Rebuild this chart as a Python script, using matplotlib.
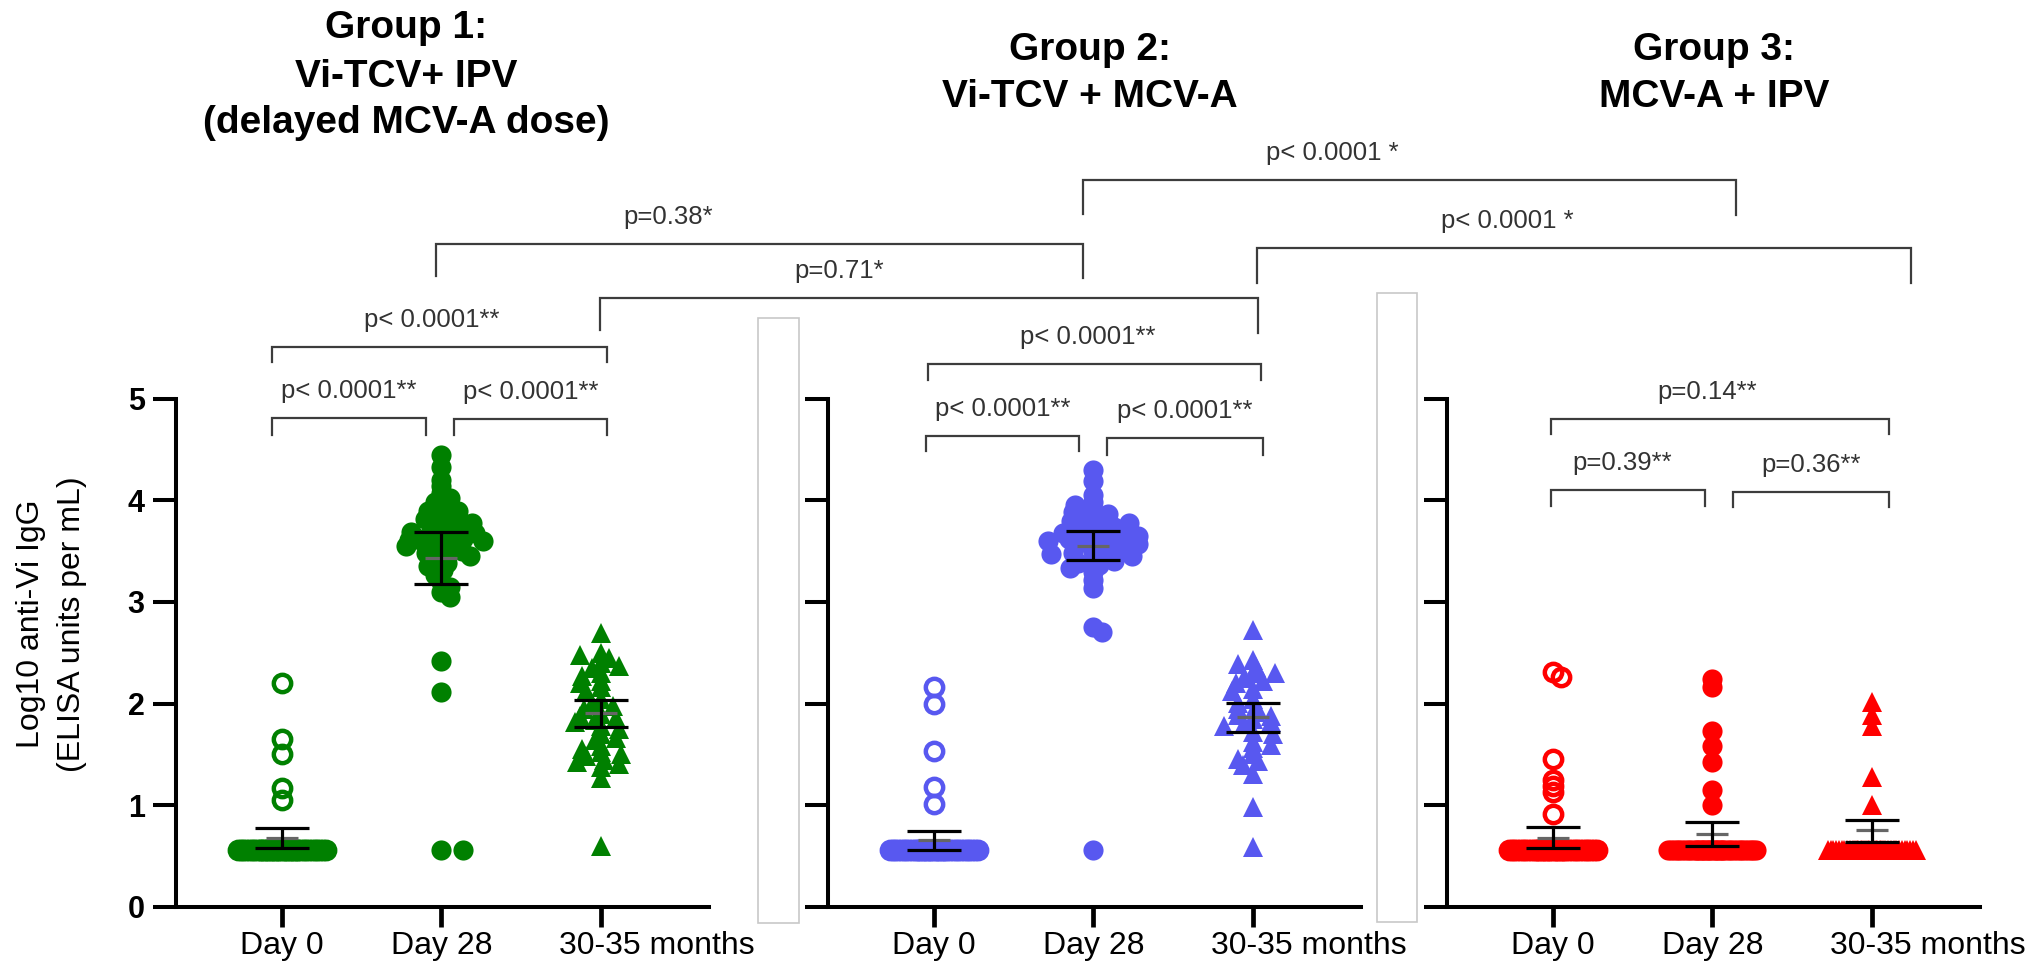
import numpy as np
import matplotlib.pyplot as plt
from matplotlib.patches import Rectangle
from matplotlib.transforms import ScaledTranslation

plt.rcParams['font.family'] = ['Liberation Sans', 'DejaVu Sans']

#%% data (log10 anti-Vi IgG)
categories = ["Day 0", "Day 28", "30-35 months"]
lloq = 0.56

# group 1: Vi-TCV + IPV
g1_day0 = [2.2, 1.65, 1.5, 1.17, 1.05]
g1_day0_lloq = 40
g1_day28 = [4.44, 4.33, 4.2, 4.14, 4.07, 4.02, 3.98, 3.93, 3.89, 3.89, 3.85, 3.82, 3.8, 3.78,
            3.75, 3.72, 3.7, 3.69, 3.68, 3.66, 3.64, 3.62, 3.61, 3.6, 3.6, 3.58, 3.56, 3.55,
            3.52, 3.5, 3.48, 3.46, 3.45, 3.42, 3.38, 3.35, 3.31, 3.26, 3.2, 3.15, 3.1, 3.05,
            2.42, 2.11, 0.56, 0.56]
g1_month30 = [2.69, 2.5, 2.48, 2.45, 2.4, 2.37, 2.35, 2.3, 2.27, 2.22, 2.2, 2.16, 2.12, 2.05,
              2.0, 1.98, 1.95, 1.9, 1.88, 1.86, 1.84, 1.82, 1.78, 1.75, 1.7, 1.66, 1.64, 1.58,
              1.55, 1.52, 1.5, 1.48, 1.45, 1.43, 1.41, 1.38, 1.27, 0.6]
g1_upper = [0.78, 3.69, 2.04]
g1_center = [0.68, 3.43, 1.91]
g1_lower = [0.58, 3.18, 1.77]

# group 2: Vi-TCV + MCV-A
g2_day0 = [2.16, 2.0, 1.53, 1.18, 1.01]
g2_day0_lloq = 38
g2_day28 = [4.3, 4.19, 4.05, 3.98, 3.95, 3.9, 3.88, 3.86, 3.83, 3.8, 3.8, 3.78, 3.76, 3.74,
            3.72, 3.7, 3.68, 3.68, 3.66, 3.65, 3.63, 3.62, 3.6, 3.6, 3.58, 3.57, 3.55, 3.54,
            3.52, 3.5, 3.48, 3.47, 3.47, 3.45, 3.42, 3.4, 3.38, 3.36, 3.33, 3.29, 3.22, 3.14,
            2.75, 2.7, 0.56]
g2_month30 = [2.72, 2.43, 2.39, 2.36, 2.3, 2.3, 2.25, 2.22, 2.2, 2.14, 2.12, 2.05, 2.01, 1.98,
              1.95, 1.92, 1.89, 1.88, 1.85, 1.82, 1.8, 1.78, 1.72, 1.7, 1.62, 1.59, 1.56, 1.5,
              1.46, 1.44, 1.4, 1.31, 0.98, 0.59]
g2_upper = [0.75, 3.70, 2.01]
g2_center = [0.66, 3.55, 1.87]
g2_lower = [0.56, 3.41, 1.72]

# group 3: MCV-A + IPV
g3_day0 = [2.31, 2.26, 1.46, 1.25, 1.19, 1.13, 0.91]
g3_day0_lloq = 38
g3_day28 = [2.24, 2.16, 1.73, 1.58, 1.43, 1.15, 1.0]
g3_day28_lloq = 38
g3_month30 = [2.02, 1.89, 1.78, 1.28, 1.0]
g3_month30_lloq = 38
g3_upper = [0.79, 0.84, 0.86]
g3_center = [0.68, 0.72, 0.76]
g3_lower = [0.58, 0.60, 0.64]

titles = [["Group 1:", "Vi-TCV+ IPV", "(delayed MCV-A dose)"],
          ["Group 2:", "Vi-TCV + MCV-A"],
          ["Group 3:", "MCV-A + IPV"]]

# comparisons: (panel a, category a, panel b, category b, label)
comparisons = [
    (0, 0, 0, 1, "p< 0.0001**"),
    (0, 1, 0, 2, "p< 0.0001**"),
    (0, 0, 0, 2, "p< 0.0001**"),
    (0, 2, 1, 2, "p=0.71*"),
    (0, 1, 1, 1, "p=0.38*"),
    (1, 1, 2, 1, "p< 0.0001 *"),
    (1, 2, 2, 2, "p< 0.0001 *"),
    (1, 0, 1, 2, "p< 0.0001**"),
    (1, 0, 1, 1, "p< 0.0001**"),
    (1, 1, 1, 2, "p< 0.0001**"),
    (2, 0, 2, 2, "p=0.14**"),
    (2, 0, 2, 1, "p=0.39**"),
    (2, 1, 2, 2, "p=0.36**"),
]
# layout of each bracket in pixels: end nudges, line height, leg lengths, label shift
bracket_style = [
    (-10, -15, 418, 17, 17, 0),
    (13, 6, 419, 16, 16, 0),
    (-10, 6, 347, 15, 15, -8),
    (-1, 5, 298, 32, 35, -90),
    (-5, -10, 244, 32, 34, -92),
    (-10, 24, 180, 34, 35, -77),
    (4, 39, 248, 35, 35, -76),
    (-6, 8, 364, 16, 16, -7),
    (-8, -14, 436, 15, 15, 0),
    (14, 10, 438, 17, 17, 0),
    (-2, 17, 419, 15, 15, -13),
    (-2, -7, 490, 16, 16, -6),
    (21, 17, 492, 15, 15, 0),
]


def swarm(values, ypx, dx0=22.0, dy0=5.5, maxw=45.0):
    """column-scatter offsets in pixels: points only spread sideways when
    they sit at nearly the same height, overlap once maxw is reached"""
    ys = np.asarray(values, float) * ypx
    steps = np.arange(0, maxw + 0.25, 0.5)
    xs = np.zeros(len(ys))
    px, py = [], []
    for n, i in enumerate(np.argsort(-ys, kind="stable")):
        sgn = 1 if n % 2 else -1
        cands = np.ravel(np.column_stack([sgn * steps, -sgn * steps]))
        if px:
            dist = np.sqrt(((cands[:, None] - np.array(px)[None, :]) / dx0) ** 2
                           + ((ys[i] - np.array(py)[None, :]) / dy0) ** 2).min(axis=1)
        else:
            dist = np.full(len(cands), np.inf)
        ok = np.nonzero(dist >= 1)[0]
        j = ok[0] if len(ok) else int(np.argmax(dist))
        xs[i] = cands[j]
        px.append(cands[j])
        py.append(ys[i])
    return xs


groups = [
    dict(color="#008000",
         series=[g1_day0 + [lloq] * g1_day0_lloq, g1_day28, g1_month30],
         bars=(g1_upper, g1_center, g1_lower)),
    dict(color="#5858f0",
         series=[g2_day0 + [lloq] * g2_day0_lloq, g2_day28, g2_month30],
         bars=(g2_upper, g2_center, g2_lower)),
    dict(color="#ff0000",
         series=[g3_day0 + [lloq] * g3_day0_lloq, g3_day28 + [lloq] * g3_day28_lloq,
                 g3_month30 + [lloq] * g3_month30_lloq],
         bars=(g3_upper, g3_center, g3_lower)),
]

#%% figure
W, H = 2033, 968
fig = plt.figure(figsize=(W / 100, H / 100), dpi=100)
panel_left = [176, 828, 1447]
panel_w = 533
y_top, y_bot = 398.5, 907

axes = []
for k, left in enumerate(panel_left):
    ax = fig.add_axes([left / W, (H - y_bot) / H, panel_w / W, (y_bot - y_top) / H])
    ax.set_xlim(-0.665, 2.68)
    ax.set_ylim(0, 5)
    for s in ["top", "right"]:
        ax.spines[s].set_visible(False)
    for s in ["left", "bottom"]:
        ax.spines[s].set_linewidth(2.9)
    ax.set_yticks(range(6))
    ax.set_xticks(range(3))
    ax.tick_params(axis="y", direction="out", length=16.5, width=2.9, pad=6)
    ax.tick_params(axis="x", direction="out", length=14.5, width=3.4, pad=3)
    if k == 0:
        ax.set_yticklabels([str(v) for v in range(6)], fontsize=22, fontweight="bold")
    else:
        ax.set_yticklabels([])
    ax.set_xticklabels(categories, fontsize=23)
    lab = ax.get_xticklabels()[2]
    lab.set_ha("left")
    lab.set_transform(lab.get_transform() + ScaledTranslation(-0.42, 0, fig.dpi_scale_trans))
    ax.set_facecolor("none")
    axes.append(ax)

for ax, g in zip(axes, groups):
    p0 = ax.transData.transform((0, 0))
    p1 = ax.transData.transform((1, 1))
    xpx, ypx = p1[0] - p0[0], p1[1] - p0[1]
    c = g["color"]
    for i, vals in enumerate(g["series"]):
        xs = i + swarm(vals, ypx) / xpx
        if i == 0:
            ax.plot(xs, vals, "o", ms=12.5, mfc="none", mec=c, mew=3.2, zorder=2, clip_on=False)
        elif i == 1:
            ax.plot(xs, vals, "o", ms=14.5, mfc=c, mec=c, mew=0, zorder=2, clip_on=False)
        else:
            ax.plot(xs, vals, "^", ms=14.5, mfc=c, mec=c, mew=0, zorder=2, clip_on=False)
    up, mid, lo = g["bars"]
    cap, half = 27 / xpx, 16 / xpx
    pos = np.arange(3)
    ax.hlines(up, pos - cap, pos + cap, color="black", lw=2.3, zorder=3)
    ax.hlines(lo, pos - cap, pos + cap, color="black", lw=2.3, zorder=3)
    ax.hlines(mid, pos - half, pos + half, color="#666666", lw=2.3, zorder=3)
    ax.vlines(pos, lo, up, color="black", lw=2.3, zorder=3)

#%% overlay: titles, comparison brackets, y label, spacer boxes
ov = fig.add_axes([0, 0, 1, 1])
ov.set_xlim(0, W)
ov.set_ylim(H, 0)
ov.axis("off")


def cat_px(panel, cat):
    return axes[panel].transData.transform((cat, 0))[0]


for (pa, ca, pb, cb, label), (da, db, yl, la, lb, tdx) in zip(comparisons, bracket_style):
    xa = cat_px(pa, ca) + da
    xb = cat_px(pb, cb) + db
    ov.plot([xa, xa, xb, xb], [yl + la, yl, yl, yl + lb], color="#3c3c3c", lw=1.6,
            solid_joinstyle="miter")
    ov.text((xa + xb) / 2 + tdx, yl - 27, label, ha="center", va="center",
            fontsize=18.5, color="#333333")

title_x = [406, 1090, 1714]
title_y = [[28, 77, 123], [50, 97], [50, 97]]
for tx, ty, lines in zip(title_x, title_y, titles):
    for yy, line in zip(ty, lines):
        ov.text(tx, yy, line, ha="center", va="center", fontsize=28, fontweight="bold")

ov.text(31, 624, "Log10 anti-Vi IgG", rotation=90, ha="center", va="center", fontsize=23)
ov.text(72, 624, "(ELISA units per mL)", rotation=90, ha="center", va="center", fontsize=23)

ov.add_patch(Rectangle((758, 318), 41, 605, facecolor="white", edgecolor="#c8c8c8", lw=1.2))
ov.add_patch(Rectangle((1377, 293), 40, 629, facecolor="white", edgecolor="#c8c8c8", lw=1.2))

plt.savefig("out.png", dpi=100)
